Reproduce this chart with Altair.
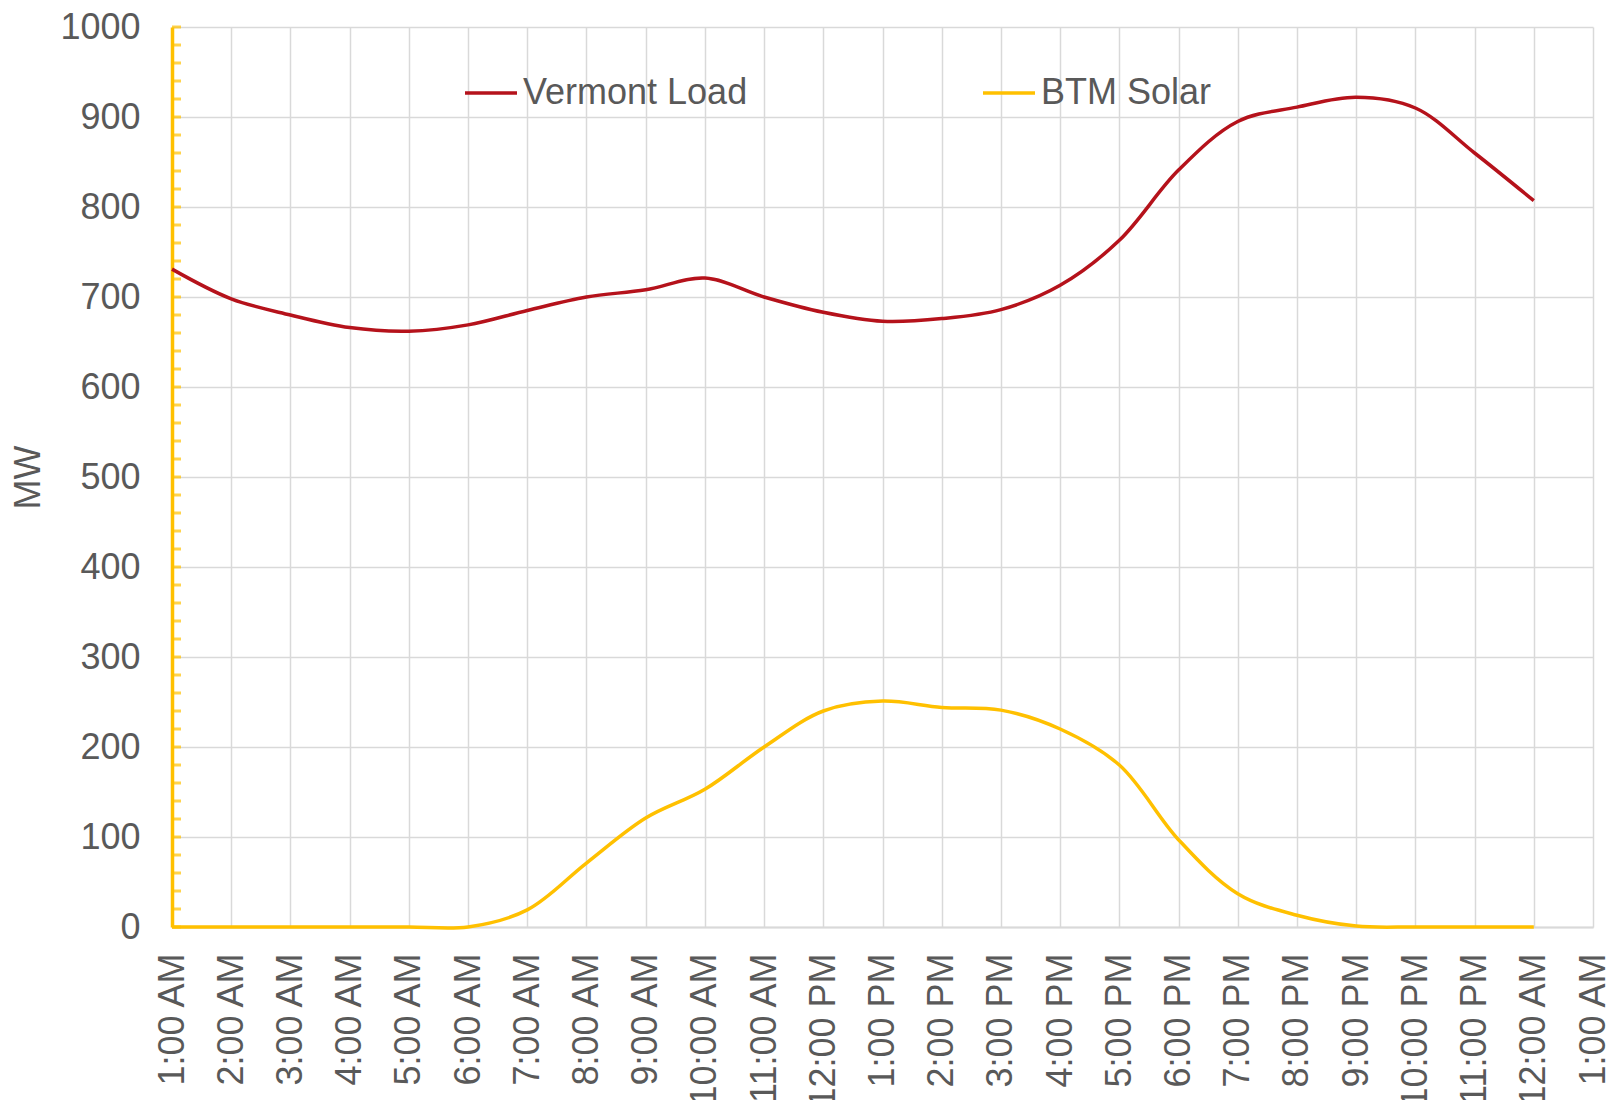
import altair as alt
import pandas as pd

# ---- data ----
hour_labels = ["1:00 AM", "2:00 AM", "3:00 AM", "4:00 AM", "5:00 AM", "6:00 AM",
               "7:00 AM", "8:00 AM", "9:00 AM", "10:00 AM", "11:00 AM", "12:00 PM",
               "1:00 PM", "2:00 PM", "3:00 PM", "4:00 PM", "5:00 PM", "6:00 PM",
               "7:00 PM", "8:00 PM", "9:00 PM", "10:00 PM", "11:00 PM", "12:00 AM",
               "1:00 AM"]
hours = list(range(24))
vermont_load = [731, 698, 680, 666, 662, 669, 685, 700, 708, 721, 700, 683,
                673, 676, 686, 713, 763, 841, 895, 911, 922, 910, 860, 807]
btm_solar = [0, 0, 0, 0, 0, 0, 19, 71, 121, 153, 200, 240,
             251, 244, 241, 220, 180, 97, 37, 13, 1, 0, 0, 0]
series_names = ["Vermont Load", "BTM Solar"]
series_colors = ["#B5121B", "#FFC000"]
y_major = list(range(0, 1001, 100))
y_minor = list(range(0, 1001, 20))

df = pd.DataFrame({
    "hour": hours + hours,
    "MW": vermont_load + btm_solar,
    "series": [series_names[0]] * len(hours) + [series_names[1]] * len(hours),
})
df_ticks = pd.DataFrame({"hour": [0] * len(y_minor), "MW": y_minor})

TEXT = "#595959"
GRID = "#D9D9D9"
label_expr = "[" + ",".join("'" + s + "'" for s in hour_labels) + "][datum.value]"

x_enc = alt.X(
    "hour:Q",
    scale=alt.Scale(domain=[0, 24], nice=False, zero=False),
    axis=alt.Axis(
        values=list(range(len(hour_labels))), labelExpr=label_expr, title=None,
        grid=True, gridColor=GRID, gridWidth=1.5, ticks=False,
        domainColor=GRID, domainWidth=2,
        labelAngle=-90, labelAlign="right", labelBaseline="middle",
        labelPadding=26, labelFontSize=36, labelColor=TEXT,
        labelOverlap=False, labelFlush=False,
    ),
)
y_enc = alt.Y(
    "MW:Q",
    scale=alt.Scale(domain=[0, 1000], nice=False),
    axis=alt.Axis(
        values=y_major, format="d", title="MW", grid=True, gridColor=GRID, gridWidth=1.5,
        ticks=False, domainColor="#FFC000", domainWidth=3.5,
        labelPadding=32, labelFontSize=36, labelColor=TEXT,
        titleFontSize=36, titleFontWeight="normal", titleColor=TEXT, titlePadding=12,
    ),
)

ticks = alt.Chart(df_ticks).mark_tick(
    color="#FFC000", orient="horizontal", size=9, thickness=3, xOffset=4.5
).encode(x=x_enc, y=y_enc)

lines = alt.Chart(df).mark_line(strokeWidth=3.5, interpolate="catmull-rom").encode(
    x=x_enc,
    y=y_enc,
    color=alt.Color(
        "series:N",
        scale=alt.Scale(domain=series_names, range=series_colors),
        sort=series_names,
        legend=alt.Legend(
            orient="none", legendX=291, legendY=38, direction="horizontal",
            title=None, labelFontSize=36, labelColor=TEXT, labelLimit=400,
            symbolType="stroke", symbolSize=2704, symbolStrokeWidth=3.5,
            columnPadding=228, labelOffset=4,
        ),
    ),
)

chart = alt.layer(ticks, lines).properties(
    width=1603, height=1092,
    autosize=alt.AutoSizeParams(type="fit", contains="padding"),
    padding={"left": 2, "top": 1, "right": 0, "bottom": -8},
).configure(font="Liberation Sans").configure_view(stroke=None)

chart.save("out.html", embed_options={"renderer": "svg", "actions": False})
